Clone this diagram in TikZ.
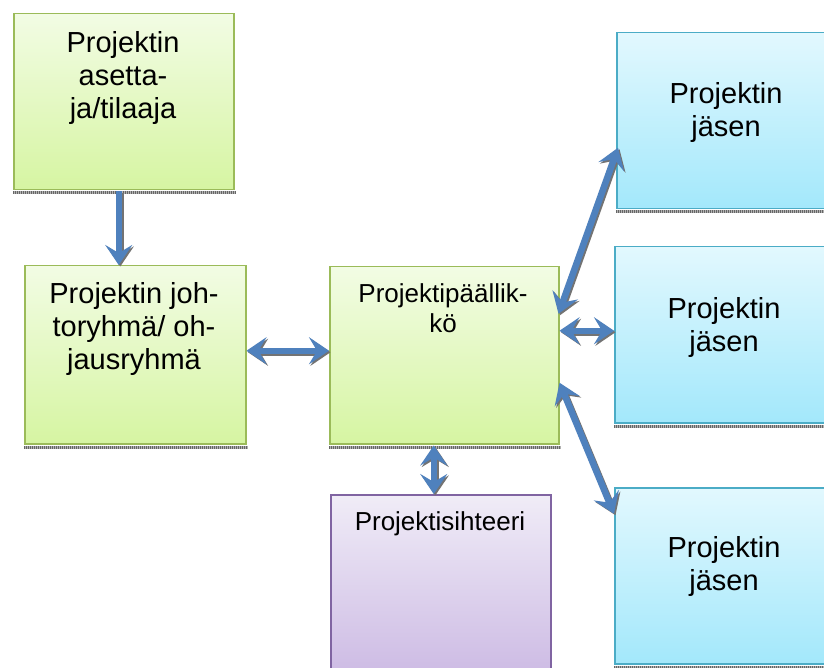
\documentclass[tikz,border=0pt]{standalone}
\usepackage{fontspec}
\setmainfont{Liberation Sans}
\usetikzlibrary{arrows.meta}

\definecolor{grnline}{HTML}{9BBB59}
\definecolor{grntop}{HTML}{F2FCE4}
\definecolor{grnbot}{HTML}{D6F5A2}
\definecolor{blueline}{HTML}{4BACC6}
\definecolor{bluetop}{HTML}{E2F8FE}
\definecolor{bluebot}{HTML}{A3E8FB}
\definecolor{purline}{HTML}{8064A2}
\definecolor{purtop}{HTML}{F0ECF7}
\definecolor{purbot}{HTML}{CDBBE4}
\definecolor{arrowblue}{HTML}{4F81BD}

% a connector drawn twice: a grey drop shadow, then the blue arrow
\newcommand\shadowlink[3]{%
  \draw[#1, linkshadow] #2 -- #3;
  \draw[#1] #2 -- #3;}

\begin{document}
\begin{tikzpicture}[x=1pt, y=-1pt,
  box/.style={line width=1.5pt, inner sep=0pt, anchor=north west,
    minimum width=220pt, minimum height=176pt},
  greenbox/.style={box, draw=grnline, top color=grntop, bottom color=grnbot},
  bluebox/.style={box, draw=blueline, top color=bluetop, bottom color=bluebot},
  purplebox/.style={box, draw=purline, top color=purtop, bottom color=purbot},
  bigtext/.style={inner sep=0pt, anchor=north, align=center,
    font={\fontsize{29}{33}\selectfont}},
  smalltext/.style={inner sep=0pt, anchor=north, align=center,
    font={\fontsize{26}{30}\selectfont}},
  boxshadow/.style={line width=3pt, black!60, dash pattern=on 1pt off 1pt},
  boxshadowbase/.style={line width=3pt, black!30},
  tip/.tip={Stealth[length=20pt, width=27pt, inset=8pt]},
  onelink/.style={arrowblue, line width=6.5pt, -tip},
  twolink/.style={arrowblue, line width=6.5pt, tip-tip},
  linkshadow/.style={black!55, transform canvas={shift={(1.5pt,-1.5pt)}}}
]
\clip (0,0) rectangle (824,668);
\fill[white] (0,0) rectangle (824,668);

% boxes
\node[greenbox] (A) at (13,13) {};
\node[greenbox, minimum width=221pt, minimum height=178pt] (B) at (24,265) {};
\node[greenbox, minimum width=229pt, minimum height=177pt] (C) at (329,266) {};
\node[purplebox, minimum height=180pt] (D) at (330,494) {};
\node[bluebox] (E) at (616,32) {};
\node[bluebox] (F) at (614,246) {};
\node[bluebox] (G) at (614,487) {};

% shadow strips under the boxes
\foreach \b in {A,B,C,E,F,G}{
  \draw[boxshadowbase] ([yshift=-2.5pt]\b.south west) -- ([yshift=-2.5pt,xshift=1pt]\b.south east);
  \draw[boxshadow] ([yshift=-2.5pt]\b.south west) -- ([yshift=-2.5pt,xshift=1pt]\b.south east);
}

% texts
\node[bigtext] (tA) at (123,31) {Projektin\\asetta-\\ja/tilaaja};
\node[bigtext] (tB) at (134,282) {Projektin joh-\\toryhmä/ oh-\\jausryhmä};
\node[smalltext] (tC) at (443,283) {Projektipäällik-\\kö};
\node[smalltext] (tD) at (440,511) {Projektisihteeri};
\node[bigtext] (tE) at (726,82) {Projektin\\jäsen};
\node[bigtext] (tF) at (724,297) {Projektin\\jäsen};
\node[bigtext] (tG) at (724,536) {Projektin\\jäsen};

% connectors
\shadowlink{onelink}{([xshift=-5pt,yshift=-1pt]A.south)}{([xshift=-5pt]A.south |- B.north)}
\shadowlink{twolink}{([yshift=4pt]B.east)}{([yshift=4.5pt]C.west)}
\shadowlink{twolink}{([xshift=-1pt,yshift=41.5pt]C.east)}{([xshift=2pt,yshift=-27pt]E.west)}
\shadowlink{twolink}{([yshift=24.5pt]C.east)}{([yshift=4pt]F.west)}
\shadowlink{twolink}{([yshift=-27.5pt]C.east)}{([yshift=62pt]G.west)}
\shadowlink{twolink}{([xshift=-10.5pt,yshift=-1pt]C.south)}{([xshift=-10.5pt]C.south |- D.north)}
\end{tikzpicture}
\end{document}
